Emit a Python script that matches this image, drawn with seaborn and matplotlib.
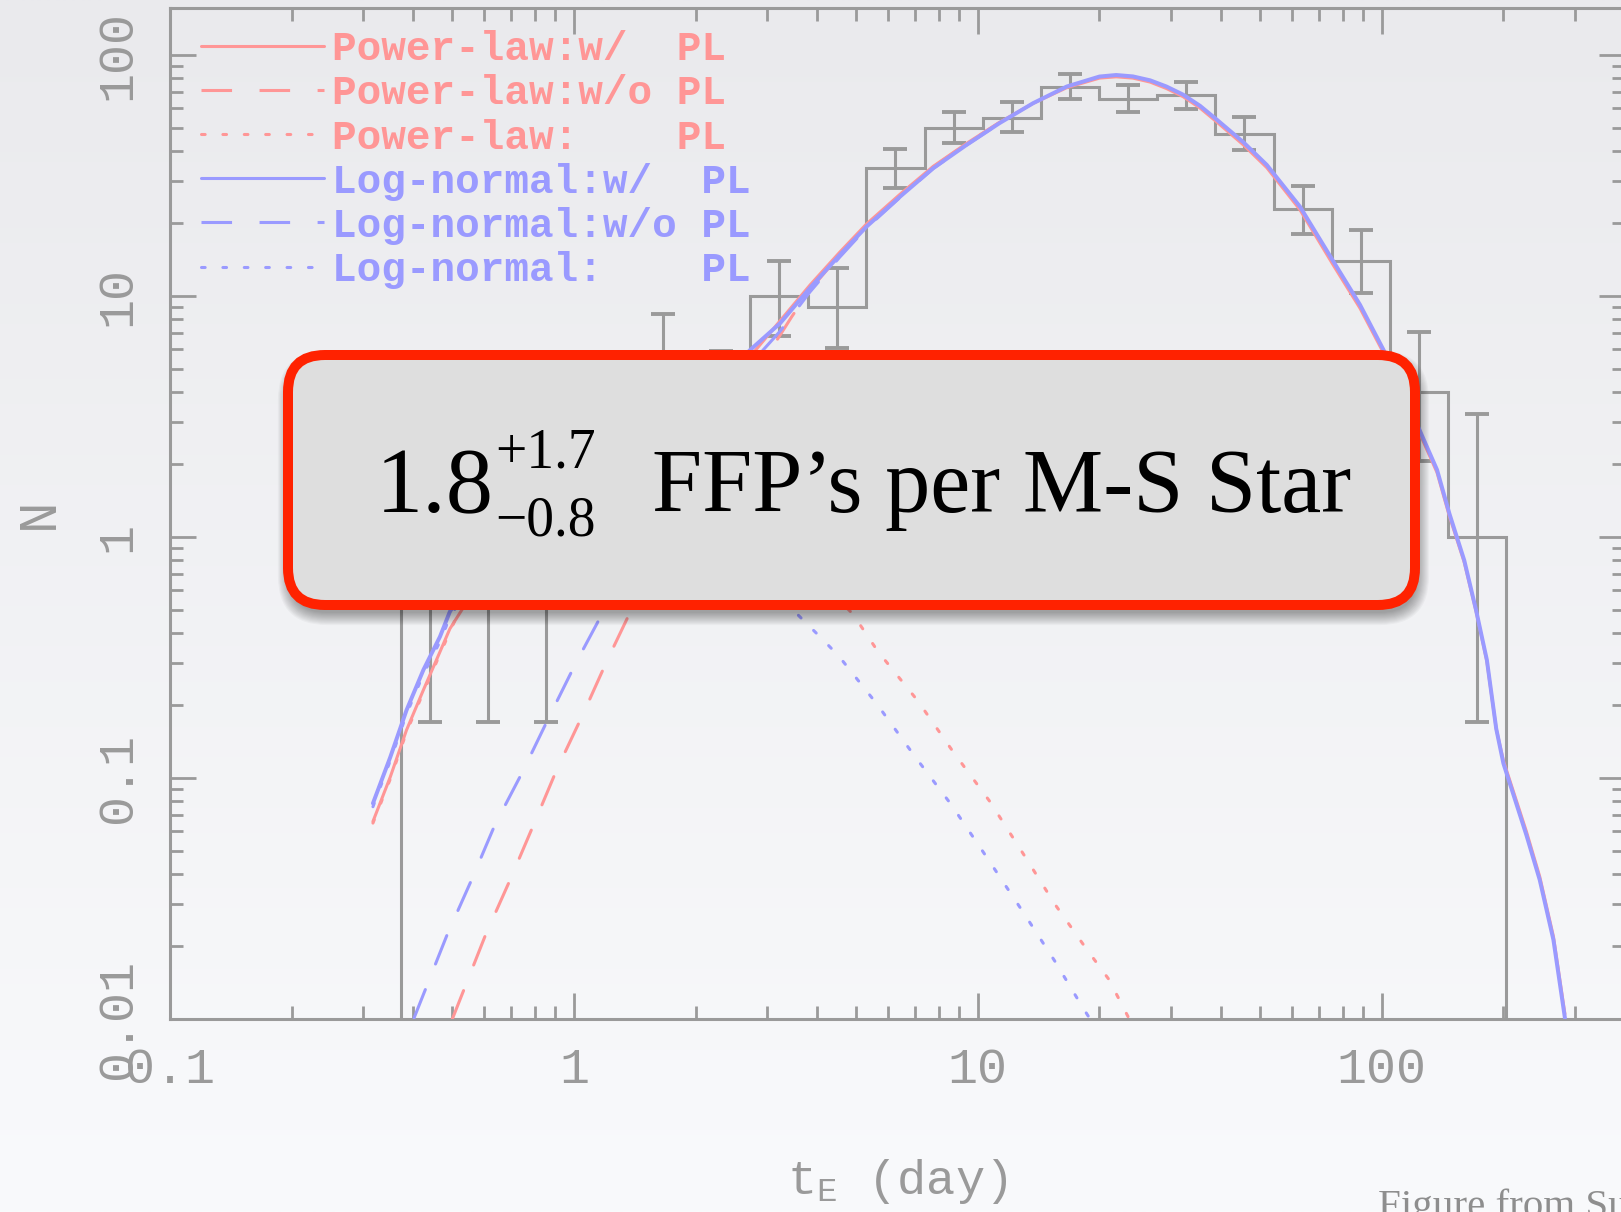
import numpy as np
import matplotlib
matplotlib.use("Agg")
import matplotlib.pyplot as plt
import seaborn as sns
from matplotlib.patches import FancyBboxPatch
from matplotlib.lines import Line2D
from matplotlib.font_manager import FontProperties
from matplotlib.ticker import FixedLocator, FixedFormatter, LogLocator, NullFormatter

# ---------------------------------------------------------------- data
# Observed Einstein-timescale histogram (log-spaced bins, days)
bin_edges = [0.3733, 0.5200, 0.7244, 1.0093, 1.4060, 1.9588, 2.7290, 3.8019,
             5.2966, 7.3790, 10.280, 14.322, 19.953, 27.797, 38.726, 53.951,
             75.162, 104.71, 145.88, 203.24]
counts = [1, 1, 1, 2, 5, 3, 10, 9, 34, 50, 55, 74, 66, 68, 47, 23, 14, 4, 1]
err_lo = [0.17, 0.17, 0.17, 0.71, 2.84, 1.37, 6.8, 6.06, 28.1, 43.2, 47.9,
          65.5, 58.1, 59.7, 40.5, 18.1, 10.3, 2.06, 0.17]
err_hi = [3.32, 3.32, 3.32, 4.66, 8.40, 5.94, 14.0, 13.1, 40.8, 58.2, 63.6,
          83.5, 75.4, 77.4, 55.3, 28.6, 18.7, 7.1, 3.25]

# Best-fit model curves, "with planets" (solid)
solid_t = [0.318, 0.351, 0.385, 0.424, 0.466, 0.493, 0.631, 0.794, 1.00, 1.26,
           1.58, 2.00, 2.51, 2.73, 3.24, 3.84, 4.55, 5.30, 6.41, 7.75, 9.38,
           11.3, 13.7, 16.6, 20.0, 22.0, 24.2, 26.7, 29.3, 32.2, 35.5, 39.0,
           45.4, 51.9, 62.7, 75.9, 88.3, 101, 124, 137, 147, 160, 171, 182,
           192, 200, 228, 246, 266, 284]
lognorm_with_n = [0.0785, 0.122, 0.191, 0.281, 0.386, 0.49, 0.92, 1.45, 2.0,
                  2.5, 3.1, 4.0, 5.2, 5.97, 7.71, 10.8, 14.8, 19.4, 25.8, 33.9,
                  42.4, 52.1, 63.1, 74.0, 81.4, 82.6, 81.5, 78.5, 74.0, 68.5,
                  61.5, 54.0, 43.5, 35.0, 23.5, 13.9, 9.2, 5.97, 2.78, 1.90,
                  1.25, 0.80, 0.50, 0.309, 0.160, 0.115, 0.058, 0.0378, 0.0213,
                  0.0101]
powlaw_with_n = [0.066, 0.101, 0.158, 0.232, 0.334, 0.416, 0.80, 1.25, 1.65,
                 2.05, 2.6, 3.4, 4.7, 5.6, 7.9, 11.1, 15.2, 19.9, 26.4, 34.5,
                 43.0, 52.5, 63.0, 73.2, 80.2, 81.2, 80.2, 77.2, 72.6, 67.2,
                 60.2, 52.8, 42.4, 34.1, 22.8, 13.4, 8.9, 5.8, 2.70, 1.85,
                 1.22, 0.785, 0.495, 0.305, 0.160, 0.118, 0.060, 0.039, 0.022,
                 0.0105]

# Models without the planetary population (dashed)
lognorm_wo_t = [0.402, 0.485, 0.558, 0.637, 0.746, 0.865, 1.01, 1.19, 1.41,
                1.78, 2.24, 2.73, 3.24, 3.84, 4.55, 5.30, 6.41, 7.75, 9.38, 11.3]
lognorm_wo_n = [0.0101, 0.0223, 0.0378, 0.0638, 0.106, 0.177, 0.299, 0.50,
                0.83, 1.65, 3.1, 5.2, 7.15, 10.4, 14.5, 19.15, 25.6, 33.8,
                42.3, 52.0]
powlaw_wo_t = [0.500, 0.604, 0.695, 0.794, 0.906, 1.05, 1.21, 1.38, 1.58, 2.00,
               2.51, 3.03, 3.18, 3.46, 3.84, 4.55, 5.30, 6.41, 7.75, 9.38, 11.3]
powlaw_wo_n = [0.0100, 0.0223, 0.0378, 0.0638, 0.108, 0.182, 0.309, 0.49, 0.77,
               1.55, 3.2, 5.97, 6.56, 8.2, 10.6, 14.8, 19.6, 26.2, 34.3, 42.9,
               52.4]

# Planetary-mass population alone (dotted)
lognorm_pl_t = [0.318, 0.351, 0.385, 0.424, 0.466, 0.493, 0.562, 0.708, 0.891,
                1.12, 1.41, 1.78, 2.24, 2.82, 3.52, 4.14, 4.53, 5.62, 6.98,
                8.57, 10.6, 12.9, 15.5, 18.1, 19.1]
lognorm_pl_n = [0.076, 0.118, 0.184, 0.270, 0.368, 0.465, 0.66, 1.10, 1.55,
                1.75, 1.62, 1.35, 1.02, 0.72, 0.49, 0.374, 0.32, 0.203, 0.123,
                0.078, 0.046, 0.028, 0.0174, 0.0113, 0.0098]
powlaw_pl_t = [0.318, 0.351, 0.385, 0.424, 0.466, 0.513, 0.631, 0.794, 1.00,
               1.26, 1.58, 2.00, 2.51, 3.16, 3.98, 4.90, 5.65, 7.10, 8.67,
               10.7, 13.0, 15.5, 18.5, 21.1, 23.7]
powlaw_pl_n = [0.065, 0.099, 0.155, 0.227, 0.327, 0.47, 0.76, 1.15, 1.45, 1.6,
               1.6, 1.45, 1.2, 0.95, 0.68, 0.48, 0.336, 0.209, 0.129, 0.080,
               0.048, 0.030, 0.0197, 0.0146, 0.0100]

legend_labels = ["Power-law:w/  PL", "Power-law:w/o PL", "Power-law:    PL",
                 "Log-normal:w/  PL", "Log-normal:w/o PL", "Log-normal:    PL"]

x_major = [0.1, 1, 10, 100]
x_major_labels = ["0.1", "1", "10", "100"]
y_major = [0.01, 0.1, 1, 10, 100]
y_major_labels = ["0.01", "0.1", "1", "10", "100"]

# ---------------------------------------------------------------- style
sns.set_theme(style="ticks")
plt.rcParams["font.family"] = ["Liberation Mono", "DejaVu Sans Mono", "DejaVu Sans"]
plt.rcParams["mathtext.fontset"] = "custom"
plt.rcParams["mathtext.rm"] = "Liberation Mono"
plt.rcParams["mathtext.it"] = "Liberation Mono"

GRAY = "#9a9a9a"
RED = "#ff9696"
BLUE = "#9a9aff"
LW = 2.2
DASH = (0, (10, 9))
DOT = (0, (1.2, 5.8))

W, H = 16.21, 12.12
fig = plt.figure(figsize=(W, H), dpi=100)

# slide background: soft vertical gradient
bg = fig.add_axes([0, 0, 1, 1], zorder=-10)
top_rgb = np.array([234, 234, 237]) / 255
bot_rgb = np.array([249, 250, 252]) / 255
frac = np.linspace(0, 1, 512)[:, None, None]
grad = np.repeat(top_rgb * (1 - frac) + bot_rgb * frac, 2, axis=1)
bg.imshow(grad, aspect="auto", extent=[0, 1, 0, 1], origin="upper",
          interpolation="bilinear")
bg.axis("off")

ax = fig.add_axes([170 / 1621, 1 - 1019 / 1212, 1455 / 1621, 1011 / 1212])
ax.set_facecolor("none")
ax.set_xscale("log")
ax.set_yscale("log")

# histogram with error bars
ax.stairs(counts, bin_edges, baseline=1e-4, color=GRAY, linewidth=LW, zorder=2)
centers = np.sqrt(np.array(bin_edges[:-1]) * np.array(bin_edges[1:]))
cnt = np.array(counts, dtype=float)
yerr = [cnt - np.array(err_lo), np.array(err_hi) - cnt]
ax.errorbar(centers, cnt, yerr=yerr, fmt="none", ecolor=GRAY, elinewidth=LW,
            capsize=8.5, capthick=2.8, zorder=2)

# model curves
line_kw = dict(ax=ax, estimator=None, sort=True, linewidth=LW)
sns.lineplot(x=powlaw_pl_t, y=powlaw_pl_n, color=RED, linestyle=DOT,
             dash_capstyle="round", zorder=3, **line_kw)
sns.lineplot(x=lognorm_pl_t, y=lognorm_pl_n, color=BLUE, linestyle=DOT,
             dash_capstyle="round", zorder=3, **line_kw)
sns.lineplot(x=powlaw_wo_t, y=powlaw_wo_n, color=RED, linestyle=DASH,
             dash_capstyle="round", zorder=3, **line_kw)
sns.lineplot(x=lognorm_wo_t, y=lognorm_wo_n, color=BLUE, linestyle=DASH,
             dash_capstyle="round", zorder=3, **line_kw)
sns.lineplot(x=solid_t, y=powlaw_with_n, color=RED, zorder=4, **line_kw)
sns.lineplot(x=solid_t, y=lognorm_with_n, color=BLUE, zorder=5,
             ax=ax, estimator=None, sort=True, linewidth=LW * 1.3)

ax.set_xlim(0.1, 400)
ax.set_ylim(0.01, 156.7)

# axes frame and ticks
for sp in ax.spines.values():
    sp.set_color(GRAY)
    sp.set_linewidth(LW)
ax.xaxis.set_major_locator(FixedLocator(x_major))
ax.xaxis.set_major_formatter(FixedFormatter(x_major_labels))
ax.yaxis.set_major_locator(FixedLocator(y_major))
ax.yaxis.set_major_formatter(FixedFormatter(y_major_labels))
ax.xaxis.set_minor_locator(LogLocator(base=10, subs=np.arange(2, 10)))
ax.yaxis.set_minor_locator(LogLocator(base=10, subs=np.arange(2, 10)))
ax.xaxis.set_minor_formatter(NullFormatter())
ax.yaxis.set_minor_formatter(NullFormatter())
ax.tick_params(which="both", direction="in", top=True, right=True,
               color=GRAY, width=2.0, labelcolor=GRAY, labelsize=36)
ax.tick_params(which="major", length=18.7)
ax.tick_params(which="minor", length=9.4)
ax.tick_params(axis="x", which="major", pad=20)
ax.tick_params(axis="y", which="major", pad=21, labelrotation=90)
for lbl in ax.get_yticklabels():
    lbl.set_va("center")

ax.set_xlabel(r"$\mathrm{t}_\mathrm{E}$ (day)", fontsize=35, color=GRAY)
ax.xaxis.label.set_va("baseline")
ax.xaxis.set_label_coords(0.5, (1019 - 1194) / 1011)
ax.set_ylabel("N", fontsize=38, color=GRAY)
ax.yaxis.label.set_va("baseline")
ax.yaxis.set_label_coords((53 - 170) / 1455, 0.5)

# legend
handles = [
    Line2D([], [], color=RED, lw=LW),
    Line2D([], [], color=RED, lw=LW, linestyle=DASH),
    Line2D([], [], color=RED, lw=LW, linestyle=DOT, dash_capstyle="round"),
    Line2D([], [], color=BLUE, lw=LW),
    Line2D([], [], color=BLUE, lw=LW, linestyle=DASH),
    Line2D([], [], color=BLUE, lw=LW, linestyle=DOT, dash_capstyle="round"),
]
leg = ax.legend(handles, legend_labels, loc="upper left",
                bbox_to_anchor=(0.0213, 0.978), frameon=False,
                prop=FontProperties(family="Liberation Mono", weight="bold",
                                    size=29.5),
                labelcolor="linecolor", handlelength=3.0, handletextpad=0.2,
                labelspacing=0.15, borderpad=0, borderaxespad=0)

# highlighted result box with a soft drop shadow
tr = fig.dpi_scale_trans
bx0, by0, bw, bh, rad = 2.88, 6.07, 11.27, 2.50, 0.37
for i in range(12):
    e = 0.011 * i
    fig.add_artist(FancyBboxPatch(
        (bx0 - e + 0.02, by0 - 0.08 - e), bw + 2 * e, bh + 2 * e,
        boxstyle=f"round,pad=0,rounding_size={rad + e}", transform=tr,
        facecolor="black", edgecolor="none", alpha=0.03, zorder=9))
fig.add_artist(FancyBboxPatch(
    (bx0, by0), bw, bh, boxstyle=f"round,pad=0,rounding_size={rad}",
    transform=tr, facecolor="#dedede", edgecolor="#ff2200", linewidth=7.2,
    zorder=10))

serif = ["Liberation Serif", "DejaVu Serif"]
fig.text(3.76, 7.00, "1.8", transform=tr, fontsize=68, family=serif,
         color="black", ha="left", va="baseline", zorder=11)
fig.text(4.95, 7.44, "+1.7", transform=tr, fontsize=40, family=serif,
         color="black", ha="left", va="baseline", zorder=11)
fig.text(4.95, 6.77, "\u22120.8", transform=tr, fontsize=40, family=serif,
         color="black", ha="left", va="baseline", zorder=11)
fig.text(6.52, 7.00, "FFP\u2019s per M-S Star", transform=tr, fontsize=65,
         family=serif, color="black", ha="left", va="baseline", zorder=11)

# source credit at the slide's lower right
fig.text(13.78, -0.05, "Figure from Sumi et al. 2011", transform=tr,
         fontsize=29.5, family=serif, color="#8e8e8e", ha="left",
         va="baseline")

fig.savefig("out.png", dpi=100)
